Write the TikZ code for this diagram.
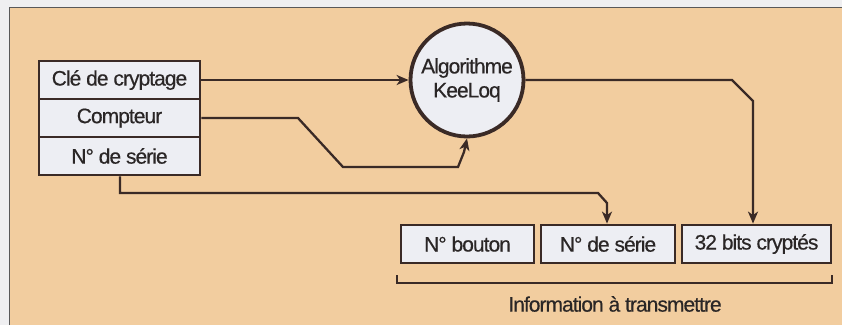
\documentclass[tikz,border=0pt]{standalone}
\usepackage{fontspec}
\setmainfont{Liberation Sans}[LetterSpace=-4.6,FakeBold=0.4]
\usetikzlibrary{arrows.meta,calc}
\definecolor{bgout}{HTML}{EFEFF1}
\definecolor{tan}{HTML}{F2CD9F}
\definecolor{boxfill}{HTML}{EDEEF3}
\definecolor{ink}{HTML}{3A2A26}
\definecolor{txt}{HTML}{2A2626}
\tikzset{
  field/.style={draw=ink, line width=2.8pt, fill=boxfill, inner sep=0pt, text=txt,
    font=\fontsize{21}{22}\selectfont},
  algo/.style={circle, draw=ink, line width=3.8pt, fill=boxfill, inner sep=0pt,
    minimum size=113pt, align=center, text=txt, font=\fontsize{21}{24}\selectfont},
  wire/.style={draw=ink, line width=2.3pt, line join=miter},
  tip/.style={-{Stealth[length=12pt,width=10pt,inset=3.5pt]}}
}
\begin{document}
\begin{tikzpicture}[x=1pt,y=-1pt]
\useasboundingbox (0,0) rectangle (842,325);
\fill[bgout] (0,0) rectangle (842,325);
\fill[tan] (9,7) rectangle (842,325);
\draw[gray!70!black, line width=1pt] (9,325) -- (9,7) -- (842,7);

% left stack
\node[field, minimum width=161pt, minimum height=38pt] (cle) at (119.5,80) {Clé de cryptage};
\node[field, minimum width=161pt, minimum height=38pt] (cpt) at (119.5,118) {Compteur};
\node[field, minimum width=161pt, minimum height=38pt] (ser) at (119.5,156) {N° de série};

% algorithm
\node[algo] (alg) at (467,80) {Algorithme\\KeeLoq};

% bottom fields
\node[field, minimum width=133pt, minimum height=38pt] (btn) at (467.5,244) {N° bouton};
\node[field, minimum width=134pt, minimum height=38pt] (bser) at (608,244) {N° de série};
\node[field, minimum width=149pt, minimum height=38pt] (bcry) at (756.5,244) {32 bits cryptés};

% connectors
\draw[wire, tip] (cle.east) -- (alg.west);

\coordinate (c1) at (298,118);
\coordinate (c2) at (343,167);
\coordinate (c3) at (458,167);
\coordinate (c4) at (464,152);
\draw[wire, tip] (cpt.east) -- (c1) -- (c2) -- (c3) -- (c4) -- (alg.south);

\coordinate (s1) at (120,193);
\coordinate (s2) at (598,193);
\coordinate (s3) at (607,203);
\draw[wire, tip] (ser.south -| s1) -- (s1) -- (s2) -- (s3) -- (s3 |- bser.north);

\coordinate (o1) at (732,80);
\coordinate (o2) at (753,101);
\draw[wire, tip] (alg.east) -- (o1) -- (o2) -- (o2 |- bcry.north);

% bracket
\coordinate (b1) at (397,275);
\coordinate (b2) at (832,275);
\draw[wire] (b1) -- ++(0,8) -- ($(b2)+(0,8)$) -- (b2);
\node[text=txt, font=\fontsize{21}{22}\selectfont] (info) at (615,304) {Information à transmettre};
\end{tikzpicture}
\end{document}
